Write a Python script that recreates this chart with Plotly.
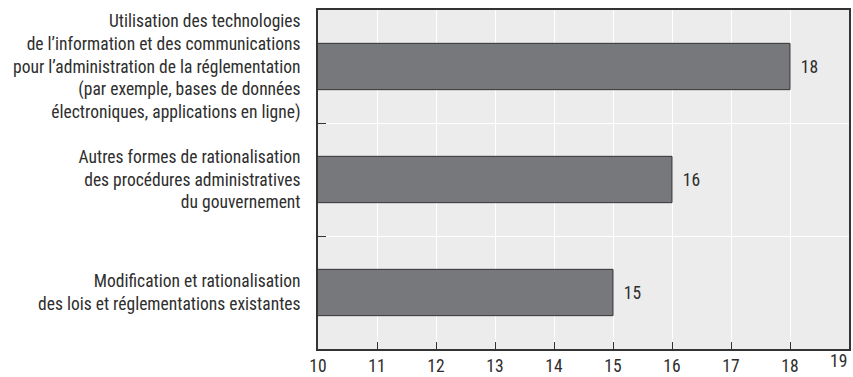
import plotly.graph_objects as go

# Categories listed top to bottom
categories = [
    "Utilisation des technologies<br>de l’information et des communications<br>pour l’administration de la réglementation<br>(par exemple, bases de données<br>électroniques, applications en ligne)",
    "Autres formes de rationalisation<br>des procédures administratives<br>du gouvernement",
    "Modification et rationalisation<br>des lois et réglementations existantes",
]
values = [18, 16, 15]
x_ticks = [10, 11, 12, 13, 14, 15, 16, 17, 18, 19]

FONT = "Liberation Sans Narrow, Arial Narrow, Roboto Condensed, sans-serif"
TEXT = "#2e2e2e"
FS = 17.5

fig = go.Figure(
    go.Bar(
        x=values,
        y=categories,
        orientation="h",
        width=0.41,
        marker=dict(color="#77787b", line=dict(color="#333333", width=1)),
        text=["\u2002" + str(v) for v in values],
        textposition="outside",
        textfont=dict(family=FONT, size=FS, color=TEXT),
        cliponaxis=False,
        hoverinfo="skip",
    )
)

# Last tick label sits flush with the right edge of the plot
tick_text = [str(t) for t in x_ticks[:-1]] + [""]
fig.add_annotation(
    x=x_ticks[-1], xref="x", y=0, yref="paper",
    text=str(x_ticks[-1]), showarrow=False,
    xanchor="right", yanchor="top", yshift=0,
    font=dict(family=FONT, size=FS, color=TEXT),
)

fig.update_layout(
    width=853,
    height=377,
    margin=dict(l=318, r=2, t=10, b=28),
    paper_bgcolor="white",
    plot_bgcolor="#ececec",
    showlegend=False,
    font=dict(family=FONT, size=FS, color=TEXT),
    bargap=0.59,
)

fig.update_xaxes(
    range=[10, 19],
    tickvals=x_ticks,
    ticktext=tick_text,
    ticks="inside",
    ticklen=7,
    tickwidth=1.2,
    tickcolor="#333333",
    automargin=False,
    showgrid=True,
    gridcolor="white",
    gridwidth=1,
    showline=True,
    linecolor="#333333",
    linewidth=2,
    mirror=True,
    zeroline=False,
    tickfont=dict(family=FONT, size=FS, color=TEXT),
)

fig.update_yaxes(
    categoryorder="array",
    categoryarray=categories[::-1],
    tickson="boundaries",
    ticks="inside",
    ticklen=8,
    tickwidth=1.2,
    tickcolor="#333333",
    showgrid=True,
    gridcolor="white",
    gridwidth=1,
    showline=True,
    linecolor="#333333",
    linewidth=2,
    mirror=True,
    ticklabelstandoff=12,
    tickfont=dict(family=FONT, size=FS, color=TEXT),
)

fig.write_html("out.html")
